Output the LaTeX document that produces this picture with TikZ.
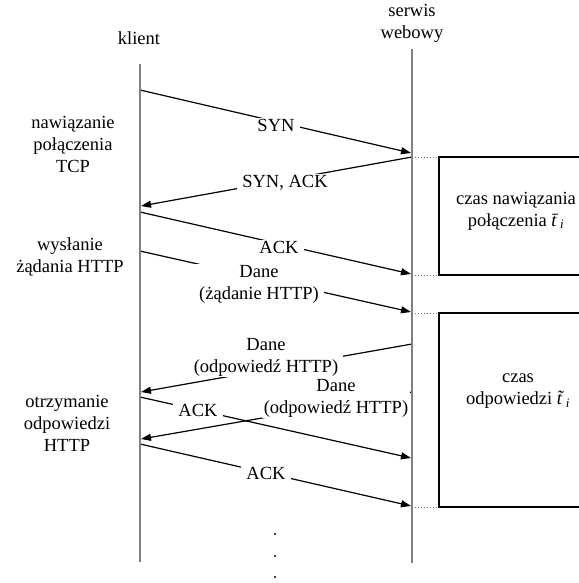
\documentclass[tikz,border=0pt]{standalone}
\usepackage{fontspec}
\setmainfont{Liberation Serif}
\usetikzlibrary{arrows.meta}
\begin{document}
\begin{tikzpicture}[x=1pt,y=-1pt,
  font=\fontsize{18.5}{22}\selectfont,
  msg/.style={-{Triangle[length=10pt,width=7pt]}, line width=1.2pt},
  lbl/.style={fill=white, inner xsep=5pt, inner ysep=1pt, align=center},
  life/.style={line width=1.8pt, draw=black!50},
  dotl/.style={dotted, draw=black!55, line width=1pt},
  boxline/.style={line width=1.2pt},
  txt/.style={align=center, inner sep=0pt},
  dotmark/.style={circle, fill=black, inner sep=0pt, minimum size=2.4pt}]
\useasboundingbox (0,0) rectangle (578,583);

% lifelines
\coordinate (ctop) at (140,64);
\coordinate (cbot) at (140,562);
\coordinate (stop) at (412,49);
\coordinate (sbot) at (412,563);

% message end points
\coordinate (c1) at (140,90);   \coordinate (s1) at (411,153);
\coordinate (s2) at (412,157);  \coordinate (c2) at (141,206);
\coordinate (c3) at (140,212);  \coordinate (s3) at (411,274);
\coordinate (c4) at (140,251);  \coordinate (s4) at (411,312);
\coordinate (s5) at (412,344);  \coordinate (c5) at (141,392);
\coordinate (c6) at (140,397);  \coordinate (s6) at (411,458);
\coordinate (s7) at (412,392);  \coordinate (c7) at (141,439);
\coordinate (c8) at (140,444);  \coordinate (s8) at (411,506);

\draw[msg] (c1) -- (s1);
\draw[msg] (s2) -- (c2);
\draw[msg] (c3) -- (s3);
\draw[msg] (c4) -- (s4);
\draw[msg] (s5) -- (c5);
\draw[msg] (c6) -- (s6);
\draw[msg] (s7) -- (c7);
\draw[msg] (c8) -- (s8);

% message labels
\node[lbl] (lsyn) at (276,125) {SYN};
\node[lbl] (lsynack) at (285,183) {SYN, ACK};
\node[lbl] (lack1) at (279,247) {ACK};
\node[lbl] (lreq) at (259,284) {Dane\\(żądanie HTTP)};
\node[lbl] (lresp1) at (266,357) {Dane\\(odpowiedź HTTP)};
\node[lbl, inner xsep=2pt] (lresp2) at (336,398) {Dane\\(odpowiedź HTTP)};
\node[lbl] (lack2) at (198,410) {ACK};
\node[lbl] (lack3) at (266,473) {ACK};

% lifelines on top
\draw[life] (ctop) -- (cbot);
\draw[life] (stop) -- (sbot);

% headers
\node[txt] (hserv) at (412,23) {serwis\\webowy};
\node[txt] (hcli) at (139,38) {klient};

% left annotations
\node[txt] (atcp) at (73,144) {nawiązanie\\połączenia\\TCP};
\node[txt] (areq) at (70,257) {wysłanie\\żądania HTTP};
\node[txt] (aresp) at (67,423) {otrzymanie\\odpowiedzi\\HTTP};

% time boxes
\coordinate (b1tl) at (439,157); \coordinate (b1bl) at (439,275);
\coordinate (b2tl) at (439,313); \coordinate (b2bl) at (439,507);
\draw[boxline] (595,157) -- (b1tl) -- (b1bl) -- (595,275);
\draw[boxline] (595,313) -- (b2tl) -- (b2bl) -- (595,507);
\draw[dotl] (s2) -- (b1tl);
\draw[dotl] (412,275) -- (b1bl);
\draw[dotl] (412,313) -- (b2tl);
\draw[dotl] (412,507) -- (b2bl);

\node[txt] (tb1) at (516,211) {czas nawiązania\\połączenia \textit{t̄}\kern-1pt\textsubscript{\textit{i}}};
\node[txt] (tb2) at (518,391) {czas\\odpowiedzi \textit{t̃}\kern-3.5pt\textsubscript{\textit{i}}};

% continuation dots
\node[dotmark] (d1) at (275,534) {};
\node[dotmark] (d2) at (275,556) {};
\node[dotmark] (d3) at (275,577) {};
\end{tikzpicture}
\end{document}
